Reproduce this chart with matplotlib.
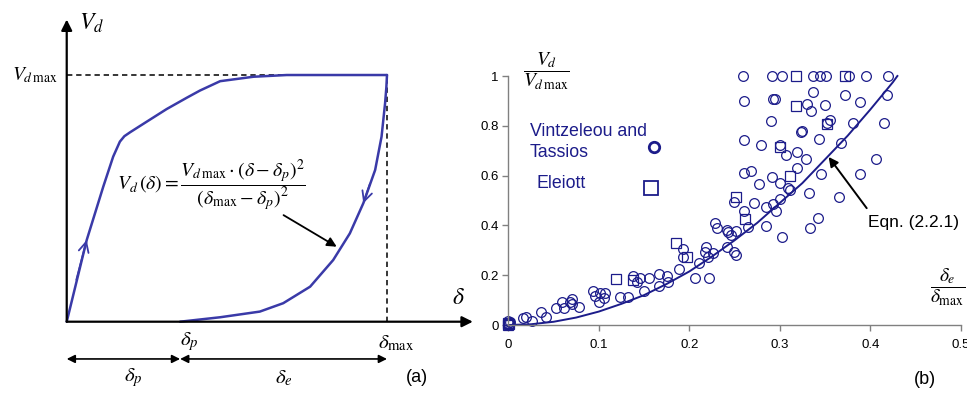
import numpy as np
import matplotlib
matplotlib.use("Agg")
import matplotlib.pyplot as plt

plt.rcParams['font.family'] = ['Liberation Sans', 'DejaVu Sans']
plt.rcParams['mathtext.fontset'] = 'stix'

# ---------------- dados: painel (a), curva esquematica (delta/delta_max, V/Vdmax)
carga_x = [0, 0.0624, 0.114, 0.145, 0.166, 0.180, 0.198, 0.250, 0.312, 0.375,
           0.416, 0.479, 0.583, 0.687, 1.0]
carga_y = [0, 0.331, 0.547, 0.669, 0.730, 0.752, 0.768, 0.811, 0.862, 0.908,
           0.937, 0.975, 0.993, 1.0, 1.0]
descarga_x = [1.0, 0.998, 0.994, 0.983, 0.963, 0.926, 0.884, 0.832, 0.760, 0.676,
              0.603, 0.479, 0.354]
descarga_y = [1.0, 0.950, 0.885, 0.750, 0.615, 0.480, 0.358, 0.250, 0.142, 0.075,
              0.041, 0.018, 0.0]
delta_p = 0.354

# ---------------- dados: painel (b)
circ_x = [0.259, 0.291, 0.302, 0.337, 0.344, 0.351, 0.376, 0.395, 0.420,
          0.261, 0.337, 0.293, 0.295, 0.389, 0.372, 0.419, 0.330, 0.350, 0.335,
          0.290, 0.356, 0.381, 0.415, 0.352,
          0.323, 0.325, 0.261, 0.279, 0.300, 0.343, 0.368, 0.319, 0.307, 0.329, 0.406,
          0.261, 0.268, 0.319, 0.291, 0.346, 0.389, 0.300, 0.277, 0.309, 0.311, 0.332,
          0.365, 0.249, 0.300, 0.272, 0.285, 0.292, 0.296, 0.260, 0.265, 0.285, 0.342,
          0.333, 0.302,
          0.228, 0.231, 0.242, 0.243, 0.246, 0.252, 0.242, 0.249, 0.252, 0.193, 0.193,
          0.218, 0.217, 0.221, 0.226, 0.211, 0.189, 0.206, 0.222,
          0.138, 0.142, 0.146, 0.156, 0.166, 0.175, 0.167, 0.176, 0.150, 0.094, 0.096,
          0.101, 0.107, 0.106, 0.100, 0.123, 0.132,
          0.059, 0.070, 0.068, 0.062, 0.053, 0.078, 0.070, 0.036, 0.042, 0.020, 0.016,
          0.026, 0.0, 0.0, 0.002]
circ_y = [1.0, 1.0, 1.0, 1.0, 1.0, 1.0, 1.0, 1.0, 1.0,
          0.900, 0.936, 0.906, 0.906, 0.897, 0.922, 0.922, 0.888, 0.884, 0.859,
          0.821, 0.823, 0.810, 0.813, 0.810,
          0.776, 0.780, 0.742, 0.723, 0.723, 0.748, 0.730, 0.696, 0.683, 0.665, 0.665,
          0.612, 0.618, 0.629, 0.596, 0.605, 0.608, 0.572, 0.565, 0.549, 0.542, 0.529,
          0.514, 0.495, 0.506, 0.489, 0.475, 0.486, 0.459, 0.459, 0.395, 0.399, 0.428,
          0.388, 0.352,
          0.411, 0.388, 0.380, 0.375, 0.361, 0.377, 0.315, 0.295, 0.281, 0.304, 0.272,
          0.315, 0.295, 0.274, 0.288, 0.248, 0.224, 0.190, 0.190,
          0.197, 0.171, 0.190, 0.190, 0.205, 0.197, 0.158, 0.171, 0.138, 0.138, 0.118,
          0.130, 0.130, 0.107, 0.094, 0.111, 0.114,
          0.091, 0.104, 0.091, 0.067, 0.067, 0.071, 0.084, 0.054, 0.033, 0.033, 0.027,
          0.017, 0.017, 0.007, 0.013]
quad_x = [0.318, 0.372, 0.318, 0.352, 0.300, 0.311, 0.252, 0.262, 0.185, 0.198,
          0.138, 0.119, 0.0, 0.0, 0.001]
quad_y = [1.0, 1.0, 0.880, 0.807, 0.714, 0.598, 0.515, 0.426, 0.328, 0.272,
          0.181, 0.186, 0.009, 0.0, 0.003]

# curva Eqn. (2.2.1)
eqn_x = [0, 0.025, 0.05, 0.075, 0.1, 0.125, 0.15, 0.175, 0.2, 0.225, 0.25, 0.275,
         0.3, 0.325, 0.35, 0.375, 0.4, 0.425, 0.43]
eqn_y = [0, 0.003, 0.013, 0.030, 0.054, 0.085, 0.120, 0.165, 0.215, 0.275, 0.340,
         0.410, 0.490, 0.570, 0.665, 0.760, 0.865, 0.975, 1.0]

xticks = [0, 0.1, 0.2, 0.3, 0.4, 0.5]
xticklabels = ['0', '0.1', '0.2', '0.3', '0.4', '0.5']
yticks = [0, 0.2, 0.4, 0.6, 0.8, 1.0]
yticklabels = ['0', '0.2', '0.4', '0.6', '0.8', '1']

azul_a = '#3a3aa8'
azul_b = '#1c1c8a'
cinza = '#808080'

fig = plt.figure(figsize=(9.67, 3.94), dpi=100)

# ===============================
# Painel (a) - esquema
# ===============================
ax1 = fig.add_axes([0.069, 0.1835, 0.3312, 0.6261])
ax1.set_xlim(0, 1)
ax1.set_ylim(0, 1)
ax1.axis('off')

# eixos com setas
ax1.annotate('', xy=(0, 1.225), xytext=(0, 0), annotation_clip=False,
             arrowprops=dict(arrowstyle='-|>', color='black', lw=1.6,
                             mutation_scale=16, shrinkA=0, shrinkB=0))
ax1.annotate('', xy=(1.268, 0), xytext=(0, 0), annotation_clip=False,
             arrowprops=dict(arrowstyle='-|>', color='black', lw=1.6,
                             mutation_scale=16, shrinkA=0, shrinkB=0))

# linhas tracejadas
ax1.plot([0, 1], [1, 1], ls='--', color='black', lw=1.1, dashes=(3.5, 2.5), clip_on=False)
ax1.plot([1, 1], [0, 1], ls='--', color='black', lw=1.1, dashes=(3.5, 2.5), clip_on=False)

# curvas carga / descarga
ax1.plot(carga_x, carga_y, color=azul_a, lw=1.8, clip_on=False,
         solid_joinstyle='round', solid_capstyle='round')
ax1.plot(descarga_x, descarga_y, color=azul_a, lw=1.8, clip_on=False,
         solid_joinstyle='round', solid_capstyle='round')

# setas abertas sobre as curvas
ax1.annotate('', xy=(carga_x[1], carga_y[1]), xytext=(0.03, 0.17),
             arrowprops=dict(arrowstyle='->', color=azul_a, lw=1.3, mutation_scale=18,
                             shrinkA=0, shrinkB=0))
ax1.annotate('', xy=(descarga_x[5], descarga_y[5]), xytext=(0.947, 0.56),
             arrowprops=dict(arrowstyle='->', color=azul_a, lw=1.3, mutation_scale=18,
                             shrinkA=0, shrinkB=0))

# formula
ax1.text(0.451, 0.555,
         r'$V_d\,(\delta) = \dfrac{V_{d\,\max}\cdot(\delta-\delta_p)^2}{(\delta_{\max}-\delta_p)^2}$',
         fontsize=14.2, ha='center', va='center')
ax1.annotate('', xy=(0.843, 0.304), xytext=(0.677, 0.432),
             arrowprops=dict(arrowstyle='-|>', color='black', lw=1.3, mutation_scale=14,
                             shrinkA=0, shrinkB=0))

# rotulos
ax1.text(0.079, 1.21, r'$V_d$', fontsize=17, ha='center', va='center')
ax1.text(-0.03, 1.0, r'$V_{d\,\max}$', fontsize=14, ha='right', va='center')
ax1.text(1.222, 0.095, r'$\delta$', fontsize=17, ha='center', va='center')
ax1.text(delta_p + 0.03, -0.08, r'$\delta_p$', fontsize=15, ha='center', va='center')
ax1.text(1.03, -0.085, r'$\delta_{\max}$', fontsize=15, ha='center', va='center')

# cotas
ax1.annotate('', xy=(delta_p, -0.151), xytext=(0, -0.151), annotation_clip=False,
             arrowprops=dict(arrowstyle='<|-|>', color='black', lw=1.2, mutation_scale=12,
                             shrinkA=0, shrinkB=0))
ax1.annotate('', xy=(1, -0.151), xytext=(delta_p, -0.151), annotation_clip=False,
             arrowprops=dict(arrowstyle='<|-|>', color='black', lw=1.2, mutation_scale=12,
                             shrinkA=0, shrinkB=0))
ax1.text(delta_p / 2 + 0.03, -0.225, r'$\delta_p$', fontsize=15, ha='center', va='center')
ax1.text((1 + delta_p) / 2, -0.228, r'$\delta_e$', fontsize=15, ha='center', va='center')
ax1.text(1.094, -0.228, '(a)', fontsize=13, ha='center', va='center')

# ===============================
# Painel (b) - dados experimentais
# ===============================
ax2 = fig.add_axes([0.5257, 0.1751, 0.4678, 0.632])
ax2.set_xlim(0, 0.5)
ax2.set_ylim(0, 1)
for s in ['top', 'right']:
    ax2.spines[s].set_visible(False)
for s in ['left', 'bottom']:
    ax2.spines[s].set_color(cinza)
    ax2.spines[s].set_linewidth(1.0)
ax2.set_xticks(xticks)
ax2.set_xticklabels(xticklabels)
ax2.set_yticks(yticks)
ax2.set_yticklabels(yticklabels)
ax2.tick_params(direction='out', length=4, width=1, color=cinza, labelsize=9.5, pad=6)
ax2.tick_params(axis='y', pad=3)

ax2.plot(eqn_x, eqn_y, color=azul_b, lw=1.4, clip_on=False)
ax2.plot(circ_x, circ_y, 'o', ms=7, mfc='none', mec=azul_b, mew=0.9, clip_on=False)
ax2.plot(quad_x, quad_y, 's', ms=6.5, mfc='none', mec=azul_b, mew=0.9, clip_on=False)

# legenda manual
ax2.text(0.024, 0.779, 'Vintzeleou and', color=azul_b, fontsize=12.8, va='center')
ax2.text(0.024, 0.691, 'Tassios', color=azul_b, fontsize=12.8, va='center')
ax2.text(0.031, 0.570, 'Eleiott', color=azul_b, fontsize=12.8, va='center')
ax2.plot([0.161], [0.715], 'o', ms=7.5, mfc='none', mec=azul_b, mew=2.0)
ax2.plot([0.158], [0.550], 's', ms=10, mfc='none', mec=azul_b, mew=1.3)

ax2.annotate('Eqn. (2.2.1)', xy=(0.354, 0.675), xytext=(0.397, 0.41),
             fontsize=12.5, va='center', ha='left',
             arrowprops=dict(arrowstyle='-|>', color='black', lw=1.4, mutation_scale=14,
                             shrinkA=4, shrinkB=0, relpos=(0.05, 1.0)))

# rotulos em fracao
fig.text(546 / 967, 1 - 71 / 394, r'$\dfrac{V_d}{V_{d\,\max}}$', fontsize=14,
         ha='center', va='center')
fig.text(948 / 967, 1 - 287 / 394, r'$\dfrac{\delta_e}{\delta_{\max}}$', fontsize=14,
         ha='center', va='center')
fig.text(925 / 967, 1 - 380 / 394, '(b)', fontsize=13, ha='center', va='center')

plt.savefig('out.png', dpi=100)
